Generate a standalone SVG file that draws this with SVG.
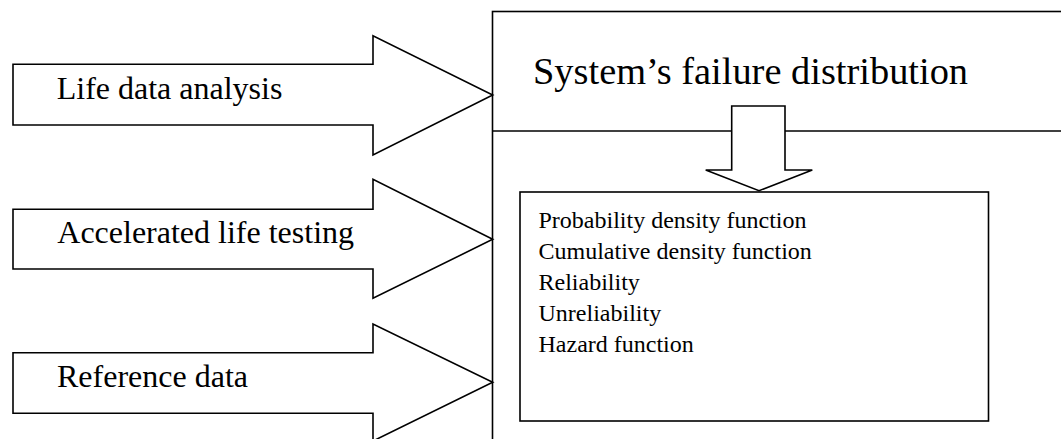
<svg xmlns="http://www.w3.org/2000/svg" width="1061" height="439" viewBox="0 0 1061 439">
<style>
.shape{fill:#fff;stroke:#000;stroke-width:1.6;stroke-linejoin:miter}
.line{fill:none;stroke:#000;stroke-width:1.6}
text{font-family:"Liberation Serif","Times New Roman",serif;fill:#000}
.lbl{font-size:32px}
.title{font-size:38.4px}
.item{font-size:24px}
</style>
<rect width="1061" height="439" fill="#fff"/>
<g id="system-box">
<rect class="shape" x="492.5" y="11.5" width="600" height="460"/>
<line class="line" x1="492.5" y1="131" x2="1061" y2="131"/>
<text class="title" x="533" y="84">System’s failure distribution</text>
</g>
<g id="functions-box">
<rect class="shape" x="520" y="192" width="468.5" height="229"/>
<text class="item" x="538.5" y="228.3">Probability density function</text>
<text class="item" x="538.5" y="259">Cumulative density function</text>
<text class="item" x="538.5" y="290">Reliability</text>
<text class="item" x="538.5" y="320.7">Unreliability</text>
<text class="item" x="538.5" y="351.7">Hazard function</text>
</g>
<g id="connectors">
<polygon id="down-arrow" class="shape" points="731.7,106 785,106 785,170 812.3,170 759,190.7 705.7,170 731.7,170"/>
</g>
<g id="life-data-analysis">
<polygon class="shape" points="13,64.3 373,64.3 373,35.7 492.7,95 373,155 373,125 13,125"/>
<text class="lbl" x="56.7" y="99">Life data analysis</text>
</g>
<g id="accelerated-life-testing">
<polygon class="shape" points="13,209.3 373,209.3 373,179.3 492.7,239.3 373,298.3 373,269 13,269"/>
<text class="lbl" x="57.3" y="242.7">Accelerated life testing</text>
</g>
<g id="reference-data">
<polygon class="shape" points="13,352.7 373,352.7 373,324 492.7,382.3 373,441 373,413.3 13,413.3"/>
<text class="lbl" x="57" y="386.7">Reference data</text>
</g>
</svg>
